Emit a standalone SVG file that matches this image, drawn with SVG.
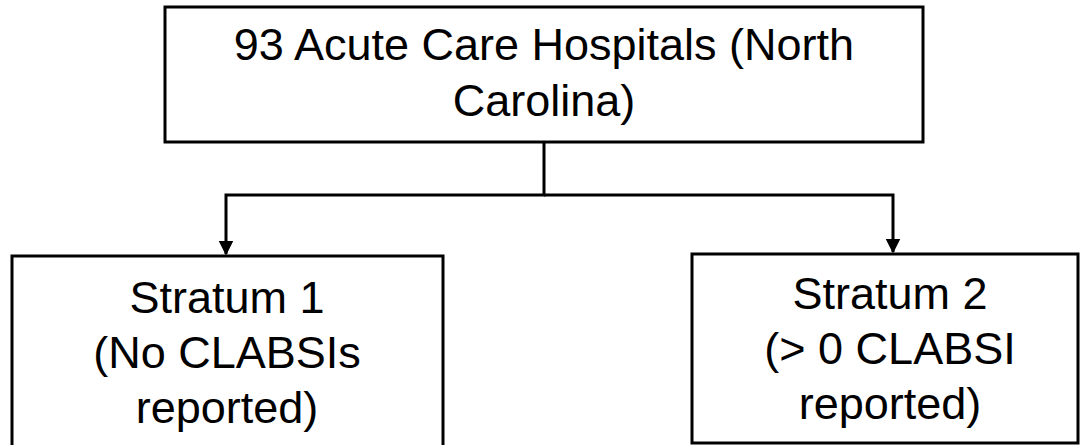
<svg xmlns="http://www.w3.org/2000/svg" width="1081" height="445" viewBox="0 0 1081 445">
<style>
.box{fill:#fff;stroke:#000;stroke-width:3}
.t{font-family:"Liberation Sans",Arial,sans-serif;font-size:45px;fill:#000;text-anchor:middle}
.c{fill:none;stroke:#000;stroke-width:3}
</style>
<defs>
<marker id="ah" markerWidth="5" markerHeight="5" refX="4.5" refY="2.5" orient="auto" markerUnits="strokeWidth">
<path d="M0,0 L5,2.5 L0,5 z" fill="#000"/>
</marker>
</defs>
<rect width="1081" height="445" fill="#fff"/>
<g id="top">
<rect class="box" x="165" y="7" width="758" height="135"/>
<text class="t" x="544" y="60">93 Acute Care Hospitals (North</text>
<text class="t" x="544" y="116">Carolina)</text>
</g>
<g id="s1">
<rect class="box" x="12" y="256" width="431" height="200"/>
<text class="t" x="227" y="313">Stratum 1</text>
<text class="t" x="227" y="368">(No CLABSIs</text>
<text class="t" x="227" y="423">reported)</text>
</g>
<g id="s2">
<rect class="box" x="692" y="254" width="386" height="189"/>
<text class="t" x="890" y="309">Stratum 2</text>
<text class="t" x="890" y="364">(&gt; 0 CLABSI</text>
<text class="t" x="890" y="419">reported)</text>
</g>
<g id="connectors">
<path class="c" d="M544,142 V195 H226 V254" marker-end="url(#ah)"/>
<path class="c" d="M544,195 H893 V252" marker-end="url(#ah)"/>
</g>
</svg>
